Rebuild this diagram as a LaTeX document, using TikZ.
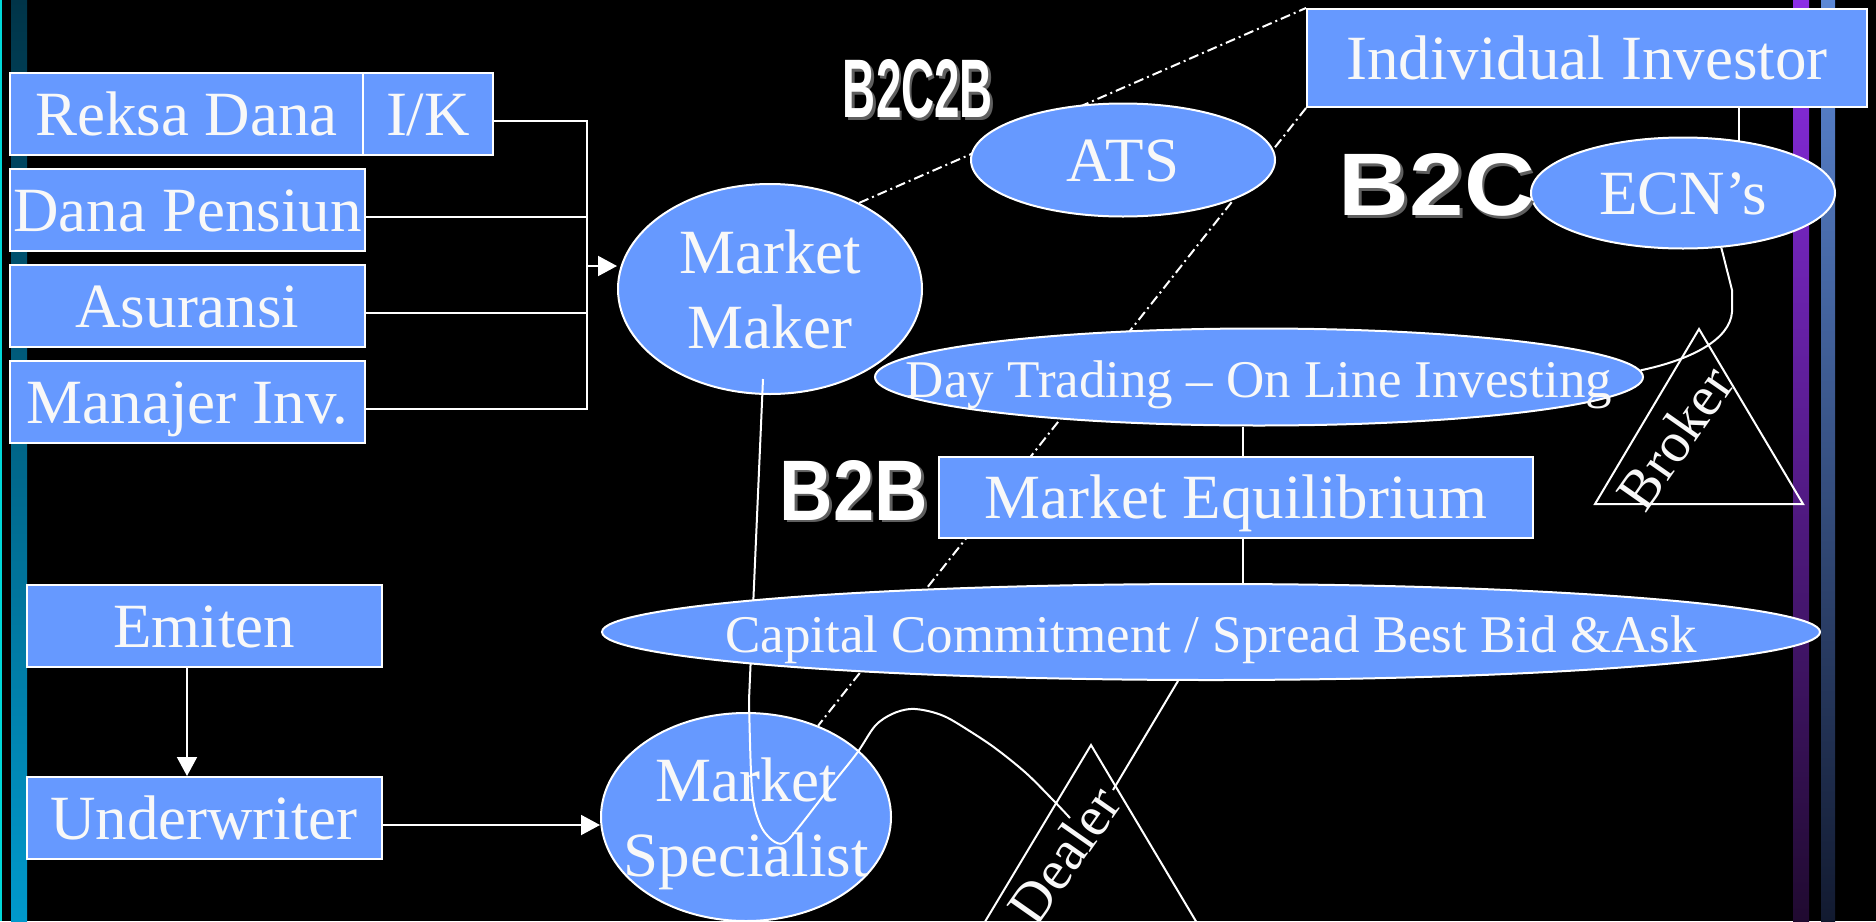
\documentclass[tikz,border=0pt]{standalone}
\usepackage{fontspec}
\setmainfont{Liberation Serif}
\newfontfamily\bsans{Liberation Sans}
\usetikzlibrary{shapes.geometric,arrows.meta}
\definecolor{boxblue}{RGB}{102,153,255}
\definecolor{txtw}{RGB}{248,248,248}
\definecolor{shad}{RGB}{95,95,95}
\definecolor{cyanl}{RGB}{0,215,215}
\newcommand\bigbold[3]{\resizebox{#1}{#2}{\bsans\bfseries #3}}
\pgfdeclarelayer{back}
\pgfdeclarelayer{lines}
\pgfdeclarelayer{over}
\pgfdeclarelayer{front}
\pgfsetlayers{back,lines,main,over,front}
\tikzset{
 fnt/.style={font=\fontsize{63}{75}\selectfont},
 fnts/.style={font=\fontsize{53}{64}\selectfont},
 bx/.style={draw=white, line width=2pt, fill=boxblue, text=txtw, inner sep=0pt, fnt, text height=42pt, text depth=0pt},
 ellb/.style={ellipse, draw=white, line width=2pt, fill=boxblue, text=txtw, inner sep=0pt, fnt},
 ell/.style={ellb, text height=43pt, text depth=0pt},
 ells/.style={ellb, fnts, text height=41pt, text depth=0pt},
 conn/.style={draw=white, line width=2pt},
 arr/.style={conn, -{Triangle[length=19pt,width=20pt]}},
 dd/.style={draw=white, line width=2pt, dash pattern=on 10pt off 4pt on 2pt off 4pt},
 tag/.style={inner sep=0pt, text=white},
 tagsh/.style={inner sep=0pt, text=shad},
 rot/.style={inner sep=0pt, text=txtw, font=\fontsize{57}{60}\selectfont, rotate=55},
}
\begin{document}
\begin{tikzpicture}[x=1pt,y=-1pt]
\useasboundingbox (0,0) rectangle (1876,921);
\begin{pgfonlayer}{back}
\fill[black] (0,0) rectangle (1876,921);
\fill[cyanl] (0,0) rectangle (2,921);
\shade[top color={rgb,255:red,0;green,52;blue,72}, bottom color={rgb,255:red,0;green,153;blue,204}] (11,0) rectangle (27,921);
\shade[top color={rgb,255:red,140;green,45;blue,230}, bottom color={rgb,255:red,32;green,10;blue,48}] (1793,0) rectangle (1809,921);
\shade[top color={rgb,255:red,92;green,136;blue,214}, bottom color={rgb,255:red,18;green,26;blue,48}] (1821,0) rectangle (1835,921);
\end{pgfonlayer}

% boxes
\node[bx, minimum width=353pt, minimum height=82pt] (reksa) at (186.5,114) {Reksa Dana};
\node[bx, minimum width=130pt, minimum height=82pt] (ik) at (428,114) {I/K};
\node[bx, minimum width=355pt, minimum height=82pt] (dana) at (187.5,210) {Dana Pensiun};
\node[bx, minimum width=355pt, minimum height=82pt] (asur) at (187.5,306) {Asuransi};
\node[bx, minimum width=355pt, minimum height=82pt] (manaj) at (187.5,402) {Manajer Inv.};
\node[bx, minimum width=355pt, minimum height=82pt] (emiten) at (204,626) {Emiten};
\node[bx, minimum width=355pt, minimum height=82pt] (under) at (204,818) {Underwriter};
\node[bx, minimum width=594pt, minimum height=81pt] (meq) at (1236,497.5) {Market Equilibrium};
\node[bx, minimum width=560pt, minimum height=98pt] (ii) at (1587,58) {Individual Investor};

% ellipses
\node[ellb, minimum width=304pt, minimum height=210pt, align=center] (mm) at (770,289) {Market\\Maker};
\node[ell, minimum width=304pt, minimum height=113pt] (ats) at (1123,160) {ATS};
\node[ell, minimum width=304pt, minimum height=111pt] (ecn) at (1683,193) {ECN’s};
\node[ells, minimum width=768pt, minimum height=97pt] (dt) at (1259,377) {\makebox[0pt]{Day Trading – On Line Investing}};
\node[ellb, minimum width=290pt, minimum height=208pt, align=center] (ms) at (746,817) {\makebox[0pt]{Market}\\\smash{\makebox[0pt]{Specialist}}};
\begin{pgfonlayer}{front}
\node[ells, minimum width=1218pt, minimum height=96pt] (cap) at (1211,632) {\makebox[0pt]{Capital Commitment / Spread Best Bid \&Ask}};
\end{pgfonlayer}

% B2x labels
\node[tagsh] (b2c2bs) at (920.5,91.5) {\bigbold{150pt}{58pt}{B2C2B}};
\node[tag] (b2c2b) at (918,89) {\bigbold{150pt}{58pt}{B2C2B}};
\node[tagsh] (b2bs) at (856.5,492.5) {\bigbold{148pt}{60pt}{B2B}};
\node[tag] (b2b) at (854,490) {\bigbold{148pt}{60pt}{B2B}};
\node[tagsh] (b2cs) at (1439.5,187.5) {\bigbold{196pt}{62pt}{B2C}};
\node[tag] (b2c) at (1437,185) {\bigbold{196pt}{62pt}{B2C}};

% triangles
\draw[conn] (1595,504) -- (1699,329) -- (1803,504) -- cycle;
\draw[conn] (962,960) -- (1091,745) -- (1219,960) -- cycle;
\node[rot] (broker) at (1675,438) {Broker};
\node[rot] (dealer) at (1064,855) {Dealer};

% hidden connectors
\coordinate (vx) at (1243,0);
\coordinate (iie) at ([xshift=152pt]ii.south);
\coordinate (dend) at (1113,790);
\begin{pgfonlayer}{lines}
\draw[dd] (mm.44) -- (ii.north west);
\draw[dd] (ii.south west) -- (ms);
\draw[conn] (dt.south -| vx) -- (cap.north -| vx);
\draw[conn] (iie) -- (iie |- ecn.center);
\draw[conn] (cap.236) -- (dend);
\end{pgfonlayer}

% visible connectors
\coordinate (busT) at (587,121);
\coordinate (busB) at (587,409);
\coordinate (busA) at (587,266);
\coordinate (uarr) at ([yshift=-7pt]under.east);
\coordinate (cend) at (1070,818);
\begin{pgfonlayer}{over}
\draw[conn] ([yshift=-7pt]ik.east) -- (busT) -- (busB) -- ([yshift=-7pt]manaj.east);
\draw[conn] ([yshift=-7pt]dana.east) -- +(222,0);
\draw[conn] ([yshift=-7pt]asur.east) -- +(222,0);
\draw[arr] (busA) -- (busA -| mm.west);
\draw[arr] ([xshift=-17pt]emiten.south) -- ([xshift=-17pt]under.north);
\draw[arr] (uarr) -- (uarr -| ms.west);
\draw[conn] ([xshift=-7pt,yshift=16pt]mm.south) -- plot[smooth, tension=0.55] coordinates {(749,700) (752,790) (760,824) (772,840) (784,843) (799,827) (830,787) (857,753) (875,726) (892,714) (910,709) (928,711) (946,717) (968,730) (995,748) (1026,773) (1053,800) (cend)};
\draw[conn] (ecn.-55) -- (1732,290) -- (1732,312) .. controls (1730,340) and (1690,360) .. (dt.1);
\end{pgfonlayer}
\end{tikzpicture}
\end{document}
